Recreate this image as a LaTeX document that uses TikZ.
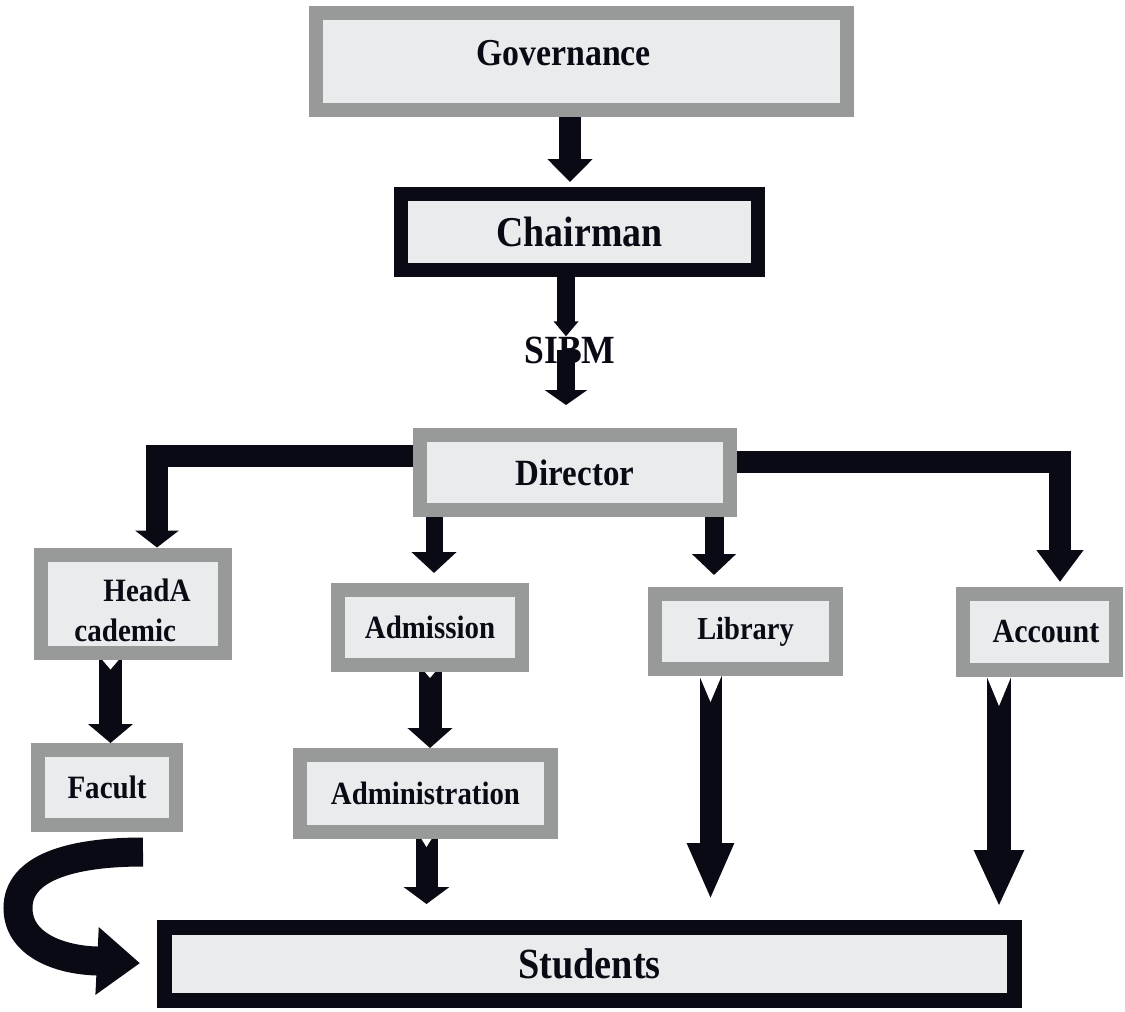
\documentclass[tikz,border=0pt]{standalone}
\usepackage{fontspec}
\setmainfont[FakeStretch=0.89]{Liberation Serif}
\usetikzlibrary{arrows.meta,backgrounds}
\definecolor{boxgray}{RGB}{152,154,154}
\definecolor{boxfill}{RGB}{233,235,236}
\definecolor{ink}{RGB}{10,10,20}
\newcommand\fsz[1]{\fontsize{#1pt}{#1pt}\selectfont\bfseries}
\begin{document}
\begin{tikzpicture}[x=1pt,y=-1pt,
  gbox/.style={draw=boxgray, fill=boxfill, line width=14pt, inner sep=0pt, text=ink},
  kbox/.style={draw=ink, fill=boxfill, line width=14pt, inner sep=0pt, text=ink},
  fat/.style n args={4}{draw=ink, line width=#1pt, -{Triangle[width=#2pt,length=#3pt]}, shorten >=#4pt},
  notch/.style={fill=white}]
\useasboundingbox (0,0) rectangle (1125,1012);

% boxes
\node[gbox, minimum width=531pt, minimum height=97pt, text depth=18pt, font=\fsz{38}] (gov) at (581.5,61.5) {Governance\hspace*{36pt}};
\node[kbox, minimum width=357pt, minimum height=76pt, font=\fsz{42.5}] (chair) at (579.5,232) {Chairman};
\node[text=ink, inner sep=0pt, font=\fsz{40}] (sibm) at (570,350) {SIBM};
\node[gbox, minimum width=310pt, minimum height=75pt, font=\fsz{37}] (dir) at (575,472.5) {Director};
\node[gbox, minimum width=184pt, minimum height=98pt, align=left, font=\fontsize{32.6pt}{40pt}\selectfont\bfseries] (ha) at (132.5,603.5) {\rule{0pt}{36pt}\hspace*{29pt}HeadA\\cademic};
\node[gbox, minimum width=184pt, minimum height=75pt, font=\fsz{32.5}] (adm) at (430,627.5) {Admission};
\node[gbox, minimum width=181pt, minimum height=75pt, font=\fsz{32}] (lib) at (745.5,631.5) {Library};
\node[gbox, minimum width=153pt, minimum height=76pt, font=\fsz{33.7}] (acc) at (1039.5,632) {\hspace*{13pt}Account};
\node[gbox, minimum width=138pt, minimum height=75pt, font=\fsz{32.6}] (fac) at (107,787.5) {Facult};
\node[gbox, minimum width=251pt, minimum height=77pt, font=\fsz{32.4}] (admin) at (425.5,793.5) {Administration};
\node[kbox, line width=15pt, minimum width=850pt, minimum height=73pt, font=\fsz{43}] (stu) at (589.5,964) {Students};

\begin{scope}[on background layer]
\fill[white] (0,0) rectangle (1125,1012);
% connectors
\draw[fat={22}{44}{23}{5}] ([xshift=-11.5pt]gov.south) -- ([xshift=-11.5pt]gov.south |- chair.north);
\draw[fat={18}{24}{15}{0}] ([xshift=-13.5pt]chair.south) -- ([xshift=-13.5pt]chair.south |- sibm.north);
\draw[fat={18}{42}{15}{23}] ([xshift=-4pt]sibm.center) -- ([xshift=-4pt]sibm.center |- dir.north);
\draw[fat={22}{43}{17}{0}] ([yshift=16.5pt]dir.west) -| ([xshift=24.5pt]ha.north);
\draw[fat={22}{45}{32}{5}] ([yshift=10.5pt]dir.east) -| ([xshift=20.5pt]acc.north);
\draw[fat={17}{44}{21}{10}] ([xshift=4pt]adm.north |- dir.south) -- ([xshift=4pt]adm.north);
\draw[fat={19}{43}{21}{12}] ([xshift=-31.5pt]lib.north |- dir.south) -- ([xshift=-31.5pt]lib.north);
\draw[fat={23}{44}{19}{0}] ([xshift=-22pt]ha.south) -- ([xshift=-22pt]ha.south |- fac.north);
\draw[fat={23}{44}{20}{0}] (adm.south) -- (adm.south |- admin.north);
\draw[fat={22}{45}{17}{16}] ([xshift=1pt]admin.south) -- ([xshift=1pt]admin.south |- stu.north);
\draw[fat={22}{43}{57}{20}] ([xshift=-35pt]lib.south) -- ([xshift=-35pt]lib.south |- stu.north);
\draw[fat={24}{46}{57}{13}] ([xshift=-40.5pt]acc.south) -- ([xshift=-40.5pt]acc.south |- stu.north);
\draw[draw=ink, line width=29pt, -{Triangle[width=65pt,length=43pt]}, shorten >=17pt]
  ([xshift=-40pt,yshift=-20pt]fac.south east) .. controls (70,852) and (18,868) .. (18,908)
  .. controls (18,945) and (60,960) .. ([xshift=-60pt,yshift=3pt]stu.west) -- (stu.west);
% notched tails
\fill[notch] ([xshift=-30.5pt]ha.south) -- ([xshift=-13.5pt]ha.south) -- ([xshift=-22pt,yshift=-10pt]ha.south) -- cycle;
\fill[notch] ([xshift=-5pt]adm.south) -- ([xshift=5pt]adm.south) -- ([yshift=-6pt]adm.south) -- cycle;
\fill[notch] ([xshift=-4pt]admin.south) -- ([xshift=6pt]admin.south) -- ([xshift=1pt,yshift=-8pt]admin.south) -- cycle;
\fill[notch] ([xshift=-46pt]lib.south) -- ([xshift=-24pt]lib.south) -- ([xshift=-35pt,yshift=-26pt]lib.south) -- cycle;
\fill[notch] ([xshift=-52.5pt]acc.south) -- ([xshift=-28.5pt]acc.south) -- ([xshift=-40.5pt,yshift=-29pt]acc.south) -- cycle;
\end{scope}
\end{tikzpicture}
\end{document}
